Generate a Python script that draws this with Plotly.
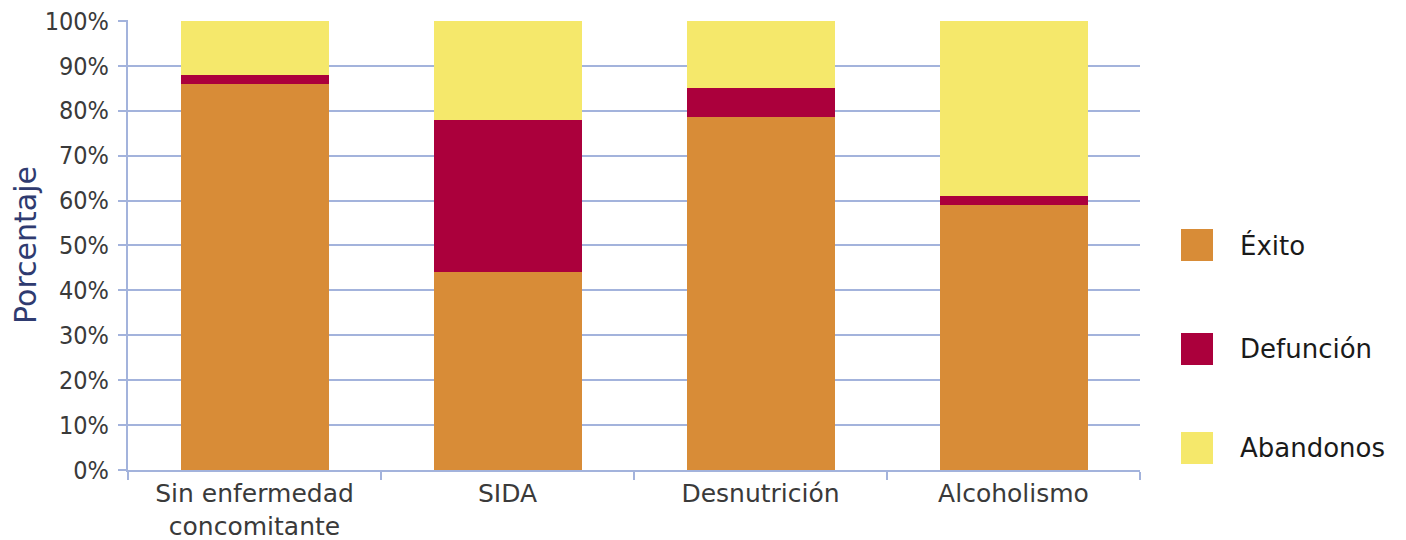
import plotly.graph_objects as go

categories = ["Sin enfermedad<br>concomitante", "SIDA", "Desnutrición", "Alcoholismo"]
exito = [86, 44, 78.5, 59]
defuncion = [2, 34, 6.5, 2]
abandonos = [12, 22, 15, 39]
series_names = ["Éxito", "Defunción", "Abandonos"]
colors = ["#d88c37", "#ab003c", "#f5e86b"]
y_ticks = [0, 10, 20, 30, 40, 50, 60, 70, 80, 90, 100]
y_tick_labels = [f"{v}%" for v in y_ticks]

fig = go.Figure()
for name, vals, col in zip(series_names, [exito, defuncion, abandonos], colors):
    fig.add_trace(go.Bar(x=categories, y=vals, name=name, marker=dict(color=col, line=dict(width=0)),
                         showlegend=False))

axis_col = "#a3b3dc"
fig.update_layout(
    barmode="stack",
    bargap=0.415,
    width=1398, height=532,
    margin=dict(l=120, r=266, t=12, b=70),
    plot_bgcolor="white", paper_bgcolor="white",
    font=dict(family="DejaVu Sans", size=22, color="#3c3c3c"),
    xaxis=dict(showline=True, linecolor=axis_col, linewidth=2, ticks="outside", tickson="boundaries",
               ticklen=8, tickcolor=axis_col, tickwidth=2, automargin=False,
               tickfont=dict(family="DejaVu Sans", size=25, color="#3a3a3a")),
    yaxis=dict(range=[0, 100.2], tickvals=y_ticks, ticktext=y_tick_labels, showgrid=True, gridcolor=axis_col,
               gridwidth=2, showline=True, linecolor=axis_col, linewidth=2, ticks="outside", ticklen=8,
               tickcolor=axis_col, tickwidth=2, automargin=False, ticklabeloverflow="allow",
               ticklabelstandoff=4,
               tickfont=dict(family="DejaVu Sans Condensed", size=25, color="#3a3a3a"),
               title=dict(text="Porcentaje", font=dict(family="DejaVu Sans", size=30, color="#2f3b70"),
                          standoff=0),
               zeroline=False),
)

# manual legend
legend_y = [245, 349, 448]
for name, col, yc in zip(series_names, colors, legend_y):
    fy = 1 - (yc - 20) / 450
    fig.add_shape(type="rect", xref="paper", yref="paper",
                  x0=(1181 - 128) / 1012, x1=(1213 - 128) / 1012,
                  y0=fy - 16 / 450, y1=fy + 16 / 450, fillcolor=col, line=dict(width=0))
    fig.add_annotation(xref="paper", yref="paper", x=(1238 - 128) / 1012, y=fy, text=name,
                       showarrow=False, xanchor="left", yanchor="middle",
                       font=dict(family="DejaVu Sans", size=26, color="#1a1a1a"))

fig.write_html("out.html")
